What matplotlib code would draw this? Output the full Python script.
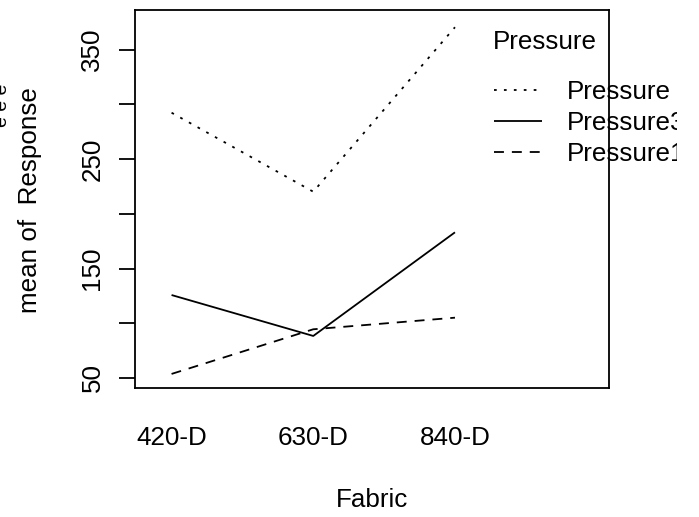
import matplotlib
matplotlib.use("Agg")
import matplotlib.pyplot as plt
from matplotlib.transforms import Bbox, TransformedBbox

plt.rcParams['font.family'] = ['Liberation Sans', 'DejaVu Sans']

fabric = ["420-D", "630-D", "840-D"]
series_names = ["Pressure", "Pressure3", "Pressure1"]
pressure_a = [292.4, 220.2, 370.5]
pressure_3 = [125.8, 88.4, 183.1]
pressure_1 = [53.7, 94.5, 105.1]
yticks = [50, 100, 150, 200, 250, 300, 350]
ytick_labels = ["50", "", "150", "", "250", "", "350"]

W, H = 699, 517
DPI = 100
fig = plt.figure(figsize=(W / DPI, H / DPI), dpi=DPI)
FS = 18.7

ax = fig.add_axes([135 / W, 1 - 387.5 / H, (609 - 135) / W, (387.5 - 9.5) / H])
x = [1, 2, 3]
lw = 1.3
styles = [(0, (1.5, 4.0)), '-', (0, (5.5, 4.4))]
data = [pressure_a, pressure_3, pressure_1]
handles = []
for vals, ls, name in zip(data, styles, series_names):
    h, = ax.plot(x, vals, color='black', lw=lw, linestyle=ls, label=name,
                 solid_capstyle='butt', dash_capstyle='butt')
    handles.append(h)

ax.set_xlim(0.742, 4.087)
ax.set_ylim(41.3, 386.7)
ax.set_xticks(x)
ax.set_xticklabels(fabric, fontsize=FS)
ax.tick_params(axis='x', length=0, pad=28)
ax.set_yticks(yticks)
ax.set_yticklabels(ytick_labels, fontsize=FS, rotation=90, va='center')
ax.tick_params(axis='y', length=11.5, width=1.3, pad=10.5)
for s in ax.spines.values():
    s.set_linewidth(1.3)

fig.text(372 / W, 1 - 500 / H, "Fabric", fontsize=FS, ha='center', va='center')
fig.text(30 / W, 1 - 200 / H, "mean of  Response", fontsize=FS, rotation=90,
         ha='center', va='center')
fig.text(3 / W, 1 - 105 / H, "e e e", fontsize=14, rotation=90,
         ha='center', va='center')

fig.text(493 / W, 1 - 42 / H, "Pressure", fontsize=FS, ha='left', va='center')
leg = ax.legend(handles=handles, labels=series_names,
                loc='upper left', bbox_to_anchor=(481 / W, 1 - 67 / H),
                bbox_transform=fig.transFigure, frameon=False,
                fontsize=FS, handlelength=1.85,
                handletextpad=0.96, labelspacing=0.27, borderpad=0)
leg.set_clip_on(False)
clip = TransformedBbox(Bbox([[0, 0], [677 / W, 1]]), fig.transFigure)
for t in leg.get_texts():
    t.set_clip_on(True)
    t.set_clip_box(clip)

fig.savefig("out.png", dpi=DPI)
